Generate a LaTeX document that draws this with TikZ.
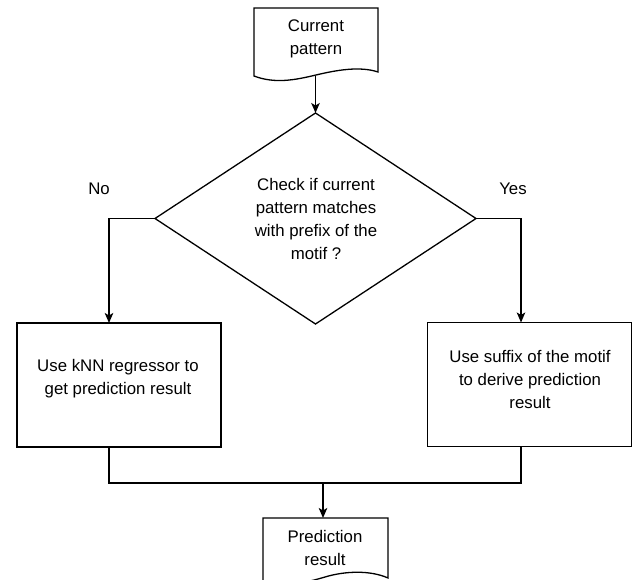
\documentclass[tikz,border=0pt]{standalone}
\usepackage{fontspec}
\setmainfont{Liberation Sans}
\usetikzlibrary{arrows.meta}
\begin{document}
\begin{tikzpicture}[x=1pt,y=-1pt,line width=1.3pt,
  >={Stealth[length=10pt,width=8.5pt,inset=2.5pt]},
  txt/.style={font=\fontsize{16.8}{23}\selectfont,align=center,text=black,inner sep=0pt},
  procbox/.style={draw,rectangle,minimum width=204pt,minimum height=124pt,inner sep=0pt}]
\useasboundingbox (0,0) rectangle (635,580);
% top document
\draw (254,76) -- (254,8) -- (378,8) -- (378,72)
  .. controls (360,66) and (337,70) .. (316,75)
  .. controls (295,80) and (275,84) .. (254,76) -- cycle;
\node[txt] (cur) at (316,39) {Current\\pattern};
\coordinate (curb) at (315.5,76);
% decision
\coordinate (dT) at (315.5,113);
\coordinate (dR) at (476,218.5);
\coordinate (dB) at (315.5,324);
\coordinate (dL) at (155,218.5);
\draw (dT) -- (dR) -- (dB) -- (dL) -- cycle;
\node[txt] (chk) at (316,219) {Check if current\\pattern matches\\with prefix of the\\motif ?};
\draw[->] (curb) -- (dT);
% boxes
\node[procbox] (knn) at (119,385) {};
\node[txt] (knnt) at (118,379) {Use kNN regressor to\\get prediction result};
\node[procbox] (suf) at (529.5,384.5) {};
\node[txt] (suft) at (530,379) {Use suffix of the motif\\to derive prediction\\result};
\coordinate (knnin) at (109,323);
\coordinate (sufin) at (521,322.5);
\draw[->] (dL) -| (knnin);
\draw[->] (dR) -| (sufin);
\node[txt] (no) at (99,189) {No};
\node[txt] (yes) at (513,189) {Yes};
% merge
\coordinate (knnout) at (109,447);
\coordinate (sufout) at (521,447);
\coordinate (mid) at (323,483);
\draw (knnout) |- (mid) -| (sufout);
% bottom document
\draw (263,580) -- (263,518) -- (388,518) -- (388,578)
  .. controls (370,570) and (345,571) .. (325,577)
  .. controls (305,583) and (285,587) .. (263,582) -- cycle;
\node[txt] (pred) at (325,547.5) {Prediction\\result};
\coordinate (predtop) at (323,518);
\draw[->] (mid) -- (predtop);
\end{tikzpicture}
\end{document}
